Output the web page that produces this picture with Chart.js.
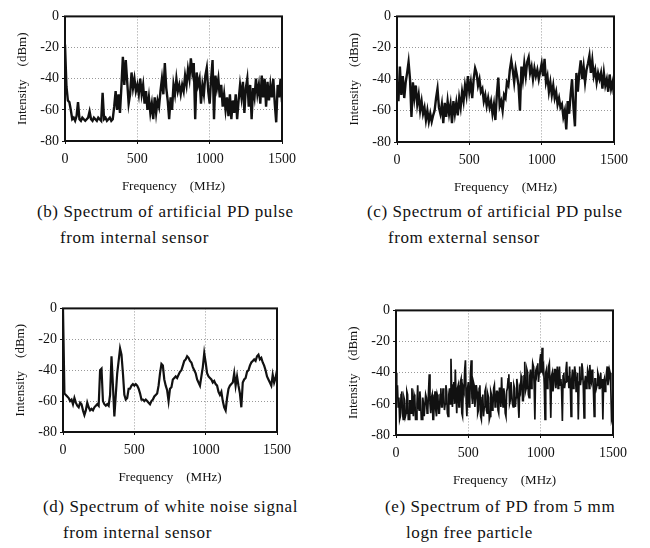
<!DOCTYPE html>
<html>
<head>
<meta charset="utf-8">
<script src="https://cdn.jsdelivr.net/npm/chart.js@4.4.0/dist/chart.umd.min.js"></script>
<style>
  body { margin: 0; background: #fff; width: 650px; height: 548px; position: relative; overflow: hidden; font-family: 'Liberation Serif', serif; }
  canvas { position: absolute; }
  .cap { position: absolute; font-size: 17px; letter-spacing: 0.6px; line-height: 18px; color: #111; white-space: nowrap; }
</style>
</head>
<body>
<canvas id="chartB"></canvas>
<canvas id="chartC"></canvas>
<canvas id="chartD"></canvas>
<canvas id="chartE"></canvas>

<div class="cap" style="left:37px; top:203px;">(b) Spectrum of artificial PD pulse</div>
<div class="cap" style="left:60px; top:229px;">from internal sensor</div>
<div class="cap" style="left:367px; top:203px;">(c) Spectrum of artificial PD pulse</div>
<div class="cap" style="left:388px; top:229px;">from external sensor</div>
<div class="cap" style="left:43px; top:498px;">(d) Spectrum of white noise signal</div>
<div class="cap" style="left:63px; top:524px;">from internal sensor</div>
<div class="cap" style="left:385px; top:498px;">(e) Spectrum of PD from 5 mm</div>
<div class="cap" style="left:406px; top:524px;">logn free particle</div>

<script>
// 频率步长 (MHz)，每条曲线 0 ~ 1500 MHz
const STEP_B = 10;
const STEP_C = 10;
const STEP_D = 10;
const STEP_E = 5;
const xTicks = [0, 500, 1000, 1500];
const yTicks = [0, -20, -40, -60, -80];

// (b) artificial PD, internal sensor  (dBm, 10 MHz)
const specB = [
  -18, -45, -54, -55, -60, -66, -65, -67, -64, -55,
  -66, -67, -65, -66, -67, -66, -65, -61, -66, -67,
  -65, -66, -67, -65, -66, -67, -49, -66, -65, -67,
  -66, -65, -67, -66, -58, -48, -60, -50, -62, -45,
  -26, -44, -28, -42, -56, -50, -36, -46, -40, -48,
  -44, -50, -40, -50, -44, -56, -48, -60, -52, -62,
  -56, -66, -52, -62, -54, -58, -48, -40, -50, -30,
  -46, -54, -66, -52, -60, -44, -50, -40, -48, -44,
  -50, -44, -48, -38, -44, -34, -40, -27, -36, -30,
  -66, -36, -44, -40, -56, -44, -50, -38, -33, -48,
  -56, -40, -28, -66, -38, -46, -40, -52, -44, -58,
  -50, -60, -52, -64, -50, -66, -54, -62, -50, -66,
  -54, -44, -52, -42, -62, -46, -40, -58, -44, -66,
  -46, -52, -40, -50, -44, -56, -38, -52, -40, -58,
  -42, -54, -44, -52, -40, -56, -68, -44, -52, -40,
  -55
];

// (c) artificial PD, external sensor  (10 MHz)
const specC = [
  -44, -54, -32, -50, -38, -52, -42, -36, -29, -40,
  -64, -42, -52, -44, -56, -50, -60, -54, -62, -58,
  -66, -60, -67, -62, -67, -63, -60, -52, -46, -58,
  -62, -56, -68, -55, -64, -54, -62, -56, -68, -54,
  -62, -55, -63, -52, -58, -48, -54, -44, -50, -38,
  -48, -42, -52, -40, -33, -36, -44, -40, -48, -46,
  -54, -50, -57, -52, -58, -54, -62, -56, -66, -50,
  -39, -57, -54, -60, -50, -52, -42, -44, -34, -28,
  -34, -42, -33, -38, -44, -60, -32, -40, -30, -38,
  -29, -26, -36, -32, -40, -33, -38, -34, -40, -35,
  -30, -38, -27, -42, -38, -48, -42, -50, -44, -52,
  -48, -56, -52, -58, -56, -64, -60, -72, -54, -62,
  -50, -40, -58, -70, -36, -48, -36, -28, -40, -32,
  -42, -34, -30, -25, -36, -28, -38, -34, -42, -36,
  -40, -36, -46, -36, -44, -40, -48, -37, -46, -42,
  -50
];

// (d) white noise, internal sensor  (10 MHz)
const specD = [
    0, -55, -56, -57, -58, -60, -59, -62, -58, -61,
  -63, -64, -61, -62, -66, -69, -66, -61, -64, -66,
  -65, -66, -64, -63, -62, -63, -40, -39, -60, -62,
  -63, -62, -63, -56, -31, -50, -70, -56, -42, -34,
  -26, -30, -42, -56, -59, -58, -52, -52, -50, -49,
  -50, -49, -50, -52, -55, -59, -59, -60, -59, -60,
  -61, -62, -60, -59, -57, -56, -55, -50, -42, -36,
  -37, -46, -50, -53, -60, -52, -51, -46, -45, -44,
  -45, -43, -41, -40, -37, -34, -33, -31, -32, -34,
  -35, -38, -40, -42, -46, -48, -50, -44, -38, -29,
  -35, -42, -44, -45, -46, -48, -47, -49, -50, -54,
  -56, -54, -60, -64, -66, -58, -52, -50, -49, -48,
  -42, -50, -44, -50, -55, -64, -48, -46, -45, -41,
  -40, -37, -35, -34, -33, -34, -31, -30, -33, -32,
  -35, -37, -40, -44, -46, -48, -50, -43, -48, -45,
  -40
];

// (e) PD from 5 mm free particle  (5 MHz)
const specE = [
  -40, -56, -48, -62, -56, -70, -68, -54, -52, -66, -70, -56, -58, -68, -66, -52, -54, -70, -70, -58,
  -58, -66, -50, -60, -68, -54, -56, -70, -70, -60, -48, -62, -64, -52, -58, -70, -70, -56, -60, -68,
  -68, -54, -56, -66, -64, -52, -41, -60, -66, -56, -54, -70, -70, -58, -52, -64, -68, -54, -56, -66,
  -66, -54, -50, -62, -62, -50, -54, -64, -60, -48, -52, -66, -68, -54, -50, -60, -31, -52, -62, -48,
  -46, -60, -38, -54, -66, -50, -48, -62, -62, -46, -44, -66, -68, -50, -52, -38, -32, -58, -68, -50,
  -46, -62, -58, -40, -32, -56, -60, -46, -48, -62, -56, -48, -52, -66, -64, -50, -48, -68, -70, -56,
  -54, -68, -62, -52, -50, -64, -66, -54, -56, -70, -68, -52, -54, -64, -62, -50, -48, -62, -60, -52,
  -52, -64, -66, -50, -50, -62, -43, -56, -62, -50, -54, -66, -68, -52, -50, -44, -41, -60, -58, -46,
  -46, -60, -62, -48, -50, -62, -56, -44, -48, -60, -69, -50, -52, -42, -44, -58, -58, -42, -33, -52,
  -50, -38, -40, -54, -56, -42, -38, -50, -46, -34, -36, -48, -70, -40, -42, -36, -34, -46, -40, -32,
  -28, -40, -24, -38, -36, -48, -70, -40, -38, -50, -46, -36, -34, -48, -69, -42, -40, -52, -48, -38,
  -38, -50, -44, -36, -50, -42, -36, -48, -44, -52, -71, -42, -40, -50, -46, -38, -33, -46, -42, -50,
  -36, -48, -68, -44, -38, -50, -46, -36, -40, -52, -48, -40, -70, -46, -36, -48, -44, -34, -38, -50,
  -69, -46, -42, -50, -48, -38, -40, -50, -35, -44, -46, -38, -42, -52, -68, -44, -44, -50, -48, -40,
  -42, -50, -46, -40, -50, -44, -70, -46, -44, -52, -48, -40, -36, -48, -44, -38, -40, -50, -70, -68,
  -71
];

// 绘图区位置 (页面像素)
const panels = [
  { id: 'chartB', data: specB, step: STEP_B, L: 65,  T: 11,  R: 293, B: 141, lw: 2.4 },
  { id: 'chartC', data: specC, step: STEP_C, L: 397, T: 11,  R: 625, B: 142, lw: 2.4 },
  { id: 'chartD', data: specD, step: STEP_D, L: 63,  T: 303, R: 288, B: 432, lw: 2.2 },
  { id: 'chartE', data: specE, step: STEP_E, L: 396, T: 305, R: 624, B: 435, lw: 1.7 }
];

const Y_AXIS_W = 50;
const X_AXIS_H = 58;
const PAD_TOP = 6;
const PAD_RIGHT = 10;

Chart.defaults.font.family = "'Liberation Serif', serif";
Chart.defaults.color = '#111';

// 黑色边框
const framePlugin = {
  id: 'frame',
  afterDatasetsDraw(chart) {
    const { ctx, chartArea: a } = chart;
    ctx.save();
    ctx.strokeStyle = '#111';
    ctx.lineWidth = 2;
    ctx.strokeRect(a.left, a.top, a.right - a.left, a.bottom - a.top);
    ctx.restore();
  }
};

function axisGrid() {
  return {
    color: 'rgba(0,0,0,0.4)',
    tickColor: '#111',
    tickBorderDash: [],
    tickLength: 3
  };
}

function buildChart(p) {
  const canvas = document.getElementById(p.id);
  const w = (p.R - p.L) + Y_AXIS_W + PAD_RIGHT;
  const h = (p.B - p.T) + PAD_TOP + X_AXIS_H;
  canvas.width = w;
  canvas.height = h;
  canvas.style.left = (p.L - Y_AXIS_W) + 'px';
  canvas.style.top = (p.T - PAD_TOP) + 'px';

  const points = p.data.map((v, i) => ({ x: i * p.step, y: v }));

  return new Chart(canvas.getContext('2d'), {
    type: 'line',
    data: {
      datasets: [{
        data: points,
        borderColor: '#111',
        borderWidth: p.lw,
        borderJoinStyle: 'miter',
        pointRadius: 0,
        tension: 0,
        fill: false
      }]
    },
    options: {
      responsive: false,
      animation: false,
      layout: { padding: { top: PAD_TOP, right: PAD_RIGHT, left: 0, bottom: 0 } },
      plugins: { legend: { display: false }, tooltip: { enabled: false } },
      scales: {
        x: {
          type: 'linear',
          min: 0,
          max: 1500,
          afterFit: s => { s.height = X_AXIS_H; },
          afterBuildTicks: s => { s.ticks = xTicks.map(v => ({ value: v })); },
          border: { display: false, dash: [1, 2] },
          grid: axisGrid(),
          ticks: {
            padding: 7,
            maxRotation: 0,
            font: { size: 14 },
            callback: v => String(v)
          },
          title: {
            display: true,
            text: 'Frequency\u3000(MHz)',
            font: { size: 13 },
            padding: { top: 0, bottom: 5 }
          }
        },
        y: {
          min: -80,
          max: 0,
          afterFit: s => { s.width = Y_AXIS_W; },
          afterBuildTicks: s => { s.ticks = yTicks.map(v => ({ value: v })); },
          border: { display: false, dash: [1, 2] },
          grid: axisGrid(),
          ticks: {
            padding: 3,
            font: { size: 14 },
            callback: v => String(v)
          },
          title: {
            display: true,
            text: 'Intensity\u3000(dBm)',
            font: { size: 13 },
            padding: { top: 0, bottom: 0 }
          }
        }
      }
    },
    plugins: [framePlugin]
  });
}

document.addEventListener('DOMContentLoaded', () => {
  panels.forEach(buildChart);
});
</script>
</body>
</html>
